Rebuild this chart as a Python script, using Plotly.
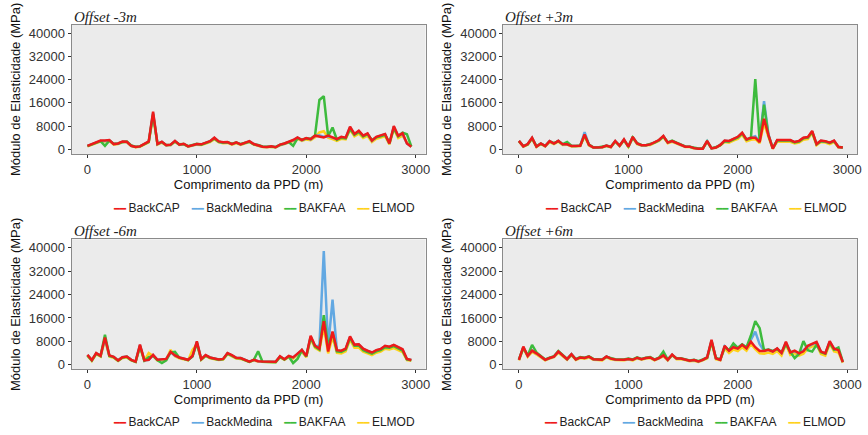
import plotly.graph_objects as go

# Distance along the runway centre line (m)
DIST = list(range(0, 2961, 40))

YTICKS = [0, 8000, 16000, 24000, 32000, 40000]
XTICKS = [0, 1000, 2000, 3000]

# ---- Offset -3m ----
M3_BACKCAP = [1200, 1800, 2400, 3000, 3000, 3200, 1800, 2000, 2700, 2600,
              1200, 800, 1000, 1800, 2700, 13000, 1800, 2600, 1400, 1600,
              2900, 1600, 1900, 1000, 1500, 1800, 1700, 2200, 2800, 4000,
              2700, 2400, 2500, 1800, 2400, 1700, 2300, 2800, 1800, 1400,
              900, 800, 1000, 700, 1600, 2000, 2600, 3200, 4100, 3200,
              3900, 3500, 4700, 4500, 4100, 4700, 4100, 3500, 4300, 4000,
              7800, 5300, 6400, 4700, 5500, 3000, 4300, 4700, 5300, 2000,
              8000, 4700, 5500, 2000, 900]
M3_BACKMEDINA = [1200, 1700, 2300, 2900, 2900, 3100, 1800, 1900, 2600, 2500,
                 1200, 800, 1000, 1700, 2600, 12500, 1800, 2500, 1400, 1500,
                 2800, 1600, 1800, 1000, 1400, 1700, 1700, 2100, 2700, 3900,
                 2600, 2300, 2400, 1800, 2300, 1700, 2200, 2700, 1800, 1400,
                 900, 800, 1000, 700, 1500, 1900, 2500, 3100, 4000, 3100,
                 3800, 3400, 4600, 4800, 4300, 4500, 4000, 3400, 4200, 3900,
                 7600, 5200, 6200, 4600, 5300, 2900, 4200, 4600, 5200, 1900,
                 7800, 4600, 5300, 2000, 900]
M3_BAKFAA = [1100, 1700, 2300, 2800, 1200, 3000, 1900, 2000, 2500, 2700,
             1300, 900, 1000, 1700, 2500, 12000, 1900, 2500, 1500, 1600,
             2700, 1700, 1800, 1100, 1500, 1900, 1600, 2100, 2700, 3700,
             2600, 2300, 2400, 1900, 2300, 1800, 2200, 2600, 1700, 1500,
             1000, 900, 1000, 800, 1500, 1900, 2500, 1200, 3800, 3300,
             3700, 3600, 4800, 17000, 18300, 4500, 7500, 3300, 4000, 3800,
             7000, 5000, 6000, 4400, 5200, 3200, 4100, 4500, 5000, 2200,
             7200, 4500, 5700, 5200, 1000]
M3_ELMOD = [1000, 1600, 2200, 2700, 2700, 2900, 1600, 1800, 2400, 2400,
            1100, 700, 900, 1600, 2400, 11500, 1600, 2300, 1300, 1400,
            2600, 1500, 1700, 900, 1300, 1600, 1500, 2000, 2500, 3500,
            2400, 2100, 2200, 1600, 2100, 1500, 2000, 2500, 1600, 1200,
            800, 700, 900, 600, 1400, 1800, 2300, 2800, 3600, 2900,
            3400, 3100, 4100, 5800, 6200, 4000, 3500, 2900, 3600, 3400,
            6800, 4500, 5400, 3900, 4600, 2500, 3600, 4000, 4500, 1700,
            7000, 3900, 4700, 2400, 800]

# ---- Offset +3m ----
P3_BACKCAP = [2900, 1000, 1800, 4000, 900, 2000, 1100, 2800, 2000, 2900,
              1700, 1700, 1100, 1100, 1200, 5100, 1500, 600, 600, 700,
              1300, 800, 2900, 1200, 3400, 900, 4300, 2000, 1400, 1400,
              1700, 2400, 3200, 4600, 2300, 2800, 2200, 1500, 900, 900,
              400, 200, 200, 2900, 300, 600, 1500, 3000, 2900, 3600,
              4300, 5700, 3400, 4000, 4000, 2500, 10500, 5000, 200, 3200,
              3200, 3200, 3200, 2500, 2900, 4000, 4200, 6300, 1800, 3000,
              2800, 2300, 3000, 800, 600]
P3_BACKMEDINA = [2900, 1000, 1800, 3900, 1000, 2000, 1100, 2800, 2000, 2900,
                 1700, 1800, 1100, 1100, 1200, 5900, 1500, 600, 600, 700,
                 1300, 800, 2800, 1200, 3300, 900, 4200, 2000, 1400, 1400,
                 1700, 2400, 3100, 4500, 2300, 2800, 2200, 1500, 900, 900,
                 400, 200, 200, 2800, 300, 600, 1500, 2900, 2800, 3500,
                 4200, 5600, 3400, 4000, 4500, 2600, 16600, 5200, 300, 3100,
                 3100, 3200, 3100, 2500, 2800, 3900, 4100, 6100, 1800, 2900,
                 2700, 2200, 2900, 800, 600]
P3_BAKFAA = [2800, 1100, 1700, 3800, 1000, 1900, 1200, 2700, 2100, 2800,
             1800, 2500, 1200, 1100, 1300, 4800, 1600, 700, 600, 800,
             1200, 900, 2700, 1300, 3200, 1000, 4100, 2100, 1500, 1400,
             1800, 2300, 3100, 4400, 2400, 3000, 2300, 1600, 1000, 900,
             500, 300, 300, 2700, 400, 700, 1400, 2800, 2700, 3400,
             4100, 5400, 3300, 3800, 24200, 3000, 15400, 4800, 400, 3000,
             3000, 3100, 3000, 2400, 2700, 3800, 4000, 6000, 1700, 2800,
             2700, 2200, 2800, 900, 600]
P3_ELMOD = [2700, 900, 1600, 3600, 800, 1800, 1000, 2500, 1800, 2600,
            1500, 1600, 1000, 1000, 1100, 4500, 1300, 500, 500, 600,
            1100, 700, 2600, 1100, 3000, 800, 3900, 1800, 1300, 1300,
            1500, 2200, 2900, 4200, 2100, 2600, 2000, 1400, 800, 800,
            300, 200, 200, 2600, 300, 500, 1300, 2500, 2300, 3000,
            3600, 5000, 2800, 3300, 3500, 2100, 9000, 4300, 200, 2600,
            2600, 2600, 2600, 2000, 2300, 3300, 3500, 5600, 1400, 2500,
            2300, 1800, 2500, 600, 500]

# ---- Offset -6m ----
M6_BACKCAP = [3400, 1600, 4000, 3100, 9300, 3200, 2700, 1500, 2600, 2800,
              1700, 1100, 6900, 1500, 1700, 3400, 1700, 1800, 2000, 4400,
              3200, 2500, 2100, 1700, 3000, 8000, 1900, 3300, 2500, 2200,
              1800, 2000, 4000, 3300, 2400, 2300, 1800, 1100, 1700, 1200,
              1100, 1000, 900, 1000, 2900, 1900, 3000, 2500, 3800, 5100,
              3000, 9900, 6500, 5500, 14900, 4500, 11400, 5000, 4800, 5500,
              9700, 6900, 7000, 5500, 4800, 4200, 5000, 5400, 6500, 6200,
              6800, 5900, 5300, 2000, 1600]
M6_BACKMEDINA = [3300, 1600, 3900, 3100, 9000, 3100, 2700, 1500, 2600, 2800,
                 1700, 1100, 6700, 1500, 1700, 3300, 1700, 1800, 2000, 4300,
                 3100, 2500, 2100, 1700, 2900, 7800, 1900, 3200, 2500, 2200,
                 1800, 2000, 3900, 3200, 2400, 2300, 1800, 1100, 1700, 1200,
                 1100, 1000, 900, 1000, 2800, 1900, 2900, 2500, 3700, 5000,
                 2900, 9600, 6400, 6500, 38900, 6000, 22300, 4800, 4700, 5400,
                 9500, 6800, 6900, 5400, 4700, 4100, 4900, 5300, 6400, 6100,
                 6700, 5800, 5200, 1900, 1600]
M6_BAKFAA = [3200, 1500, 3800, 3000, 10300, 3000, 2600, 1400, 2500, 2700,
             1600, 1000, 6400, 1400, 2600, 3000, 1500, 600, 1500, 4200,
             4400, 2400, 2000, 1600, 2800, 7500, 1800, 3100, 2400, 2100,
             1700, 1900, 3800, 3100, 2300, 2200, 1700, 1000, 1600, 4600,
             1000, 900, 800, 900, 2700, 1800, 2800, 600, 2000, 4900,
             2800, 9400, 6200, 5200, 17000, 6500, 11000, 4600, 4400, 5200,
             9200, 6500, 6600, 5000, 4300, 3800, 4600, 5000, 6000, 5800,
             6400, 5500, 4800, 1800, 1500]
M6_ELMOD = [3000, 1300, 3600, 2800, 8500, 2800, 2400, 1300, 2300, 2500,
            1500, 1000, 6000, 1300, 4000, 3000, 1500, 1600, 1800, 5100,
            2900, 2200, 1900, 1500, 5100, 7000, 1700, 3000, 2200, 2000,
            1600, 1800, 3600, 2900, 2100, 2000, 1600, 1000, 1500, 1100,
            1000, 900, 800, 900, 2500, 1700, 2600, 2100, 3300, 4400,
            2600, 8800, 5800, 4900, 13000, 3900, 9500, 4100, 3900, 4600,
            8500, 5800, 5900, 4500, 3900, 3300, 4100, 4500, 5500, 5200,
            5700, 4900, 4300, 1600, 1400]

# ---- Offset +6m ----
P6_BACKCAP = [1700, 6200, 3000, 4800, 3900, 2700, 1700, 2300, 2800, 4500,
              3200, 1900, 3600, 1800, 2500, 2300, 2800, 1900, 1800, 1700,
              2800, 2100, 1800, 1700, 1700, 2000, 1700, 2400, 1900, 2300,
              2500, 1700, 2300, 3200, 1700, 3500, 2100, 2100, 1800, 1400,
              1600, 1100, 1700, 2500, 8500, 2200, 1700, 6500, 4800, 6000,
              5500, 6800, 5600, 7900, 6000, 4700, 4700, 5100, 4500, 5600,
              4000, 7900, 4200, 4800, 3900, 4600, 6500, 7200, 7800, 4500,
              3900, 8100, 5500, 5000, 900]
P6_BACKMEDINA = [1700, 6000, 3000, 4900, 3900, 2700, 1700, 2300, 2800, 4500,
                 3200, 1900, 3600, 1800, 2500, 2300, 2800, 1900, 1800, 1700,
                 2800, 2100, 1800, 1700, 1700, 2000, 1700, 2400, 1900, 2300,
                 2500, 1700, 2300, 3300, 1700, 3400, 2100, 2100, 1800, 1400,
                 1600, 1100, 1700, 2500, 8200, 2200, 1700, 6300, 4900, 6300,
                 5600, 6900, 5800, 8500, 11300, 7000, 4800, 5100, 4600, 5500,
                 4100, 7600, 4300, 4600, 3900, 5000, 6200, 7000, 7500, 4500,
                 3900, 7900, 5400, 5100, 900]
P6_BAKFAA = [1800, 5800, 3200, 6800, 4200, 2900, 1800, 2400, 2900, 4700,
             3300, 2000, 3500, 1900, 2600, 2400, 2900, 2000, 1900, 1800,
             2700, 2200, 1900, 1800, 1800, 2100, 1800, 2500, 2000, 2400,
             2600, 1800, 2400, 4500, 1800, 3300, 2200, 2200, 1900, 1500,
             1700, 1200, 1800, 2400, 8000, 2300, 1800, 6000, 5000, 7300,
             5800, 7000, 6000, 10000, 14900, 12500, 5000, 5200, 4700, 5400,
             4200, 7000, 4400, 2300, 3700, 8100, 5000, 4500, 6800, 4300,
             3800, 7500, 5200, 5900, 1000]
P6_ELMOD = [1500, 5600, 2700, 4400, 3500, 2400, 1500, 2100, 2600, 4100,
            2900, 1700, 3300, 1600, 2300, 2100, 2500, 1700, 1600, 1500,
            2500, 1900, 1600, 1500, 1500, 1800, 1500, 2200, 1700, 2100,
            2300, 1500, 2100, 2900, 1500, 3200, 1900, 1900, 1600, 1200,
            1400, 1000, 1500, 2200, 7600, 1900, 1500, 5600, 4000, 5200,
            4700, 6000, 4800, 7100, 5300, 3900, 3800, 4200, 3700, 4700,
            3200, 7000, 3400, 4000, 3100, 3800, 5600, 6300, 6900, 3700,
            3100, 7200, 4600, 4200, 700]

METHODS = ["BackCAP", "BackMedina", "BAKFAA", "ELMOD"]
COLORS = {"BackCAP": "#EE1A1A", "BackMedina": "#62A8E2",
          "BAKFAA": "#3DBB3D", "ELMOD": "#FFD21A"}
# drawing order: red on top
DRAW_ORDER = ["ELMOD", "BackMedina", "BAKFAA", "BackCAP"]

PANELS = [
    ("Offset -3m", {"BackCAP": M3_BACKCAP, "BackMedina": M3_BACKMEDINA,
                    "BAKFAA": M3_BAKFAA, "ELMOD": M3_ELMOD}),
    ("Offset +3m", {"BackCAP": P3_BACKCAP, "BackMedina": P3_BACKMEDINA,
                    "BAKFAA": P3_BAKFAA, "ELMOD": P3_ELMOD}),
    ("Offset -6m", {"BackCAP": M6_BACKCAP, "BackMedina": M6_BACKMEDINA,
                    "BAKFAA": M6_BAKFAA, "ELMOD": M6_ELMOD}),
    ("Offset +6m", {"BackCAP": P6_BACKCAP, "BackMedina": P6_BACKMEDINA,
                    "BAKFAA": P6_BAKFAA, "ELMOD": P6_ELMOD}),
]

W, H = 868, 435
# plot areas in pixels: (left, right, top, bottom)
BOXES = [(72, 428, 25, 155), (506, 862, 25, 155),
         (72, 428, 241, 372), (506, 862, 241, 372)]
# centre of each panel's key row, in pixels
KEY_POS = [(266, 209), (700, 209), (266, 425), (699, 425)]

SANS = "Liberation Sans, Arial, sans-serif"
SERIF = "Liberation Serif, Times New Roman, serif"


def key_text():
    """Compact one-line key: coloured dash followed by the method name."""
    parts = []
    for name in METHODS:
        dash = ("<span style='color:%s;font-family:DejaVu Sans;"
                "font-size:10px;font-weight:bold'>━━</span>" % COLORS[name])
        parts.append(dash + "\u2009" + name)
    return "\u2002\u2002".join(parts)


fig = go.Figure()
layout = dict(
    width=W, height=H, margin=dict(l=0, r=0, t=0, b=0),
    paper_bgcolor="white", plot_bgcolor="#EBEBEB",
    font=dict(family=SANS, size=13, color="#333333"),
    showlegend=False,
    annotations=[],
)

for i, (title, series) in enumerate(PANELS):
    n = "" if i == 0 else str(i + 1)
    xa, ya = "x" + n, "y" + n
    for name in DRAW_ORDER:
        fig.add_trace(go.Scatter(
            x=DIST, y=series[name], mode="lines", name=name,
            line=dict(color=COLORS[name], width=2.5),
            xaxis=xa, yaxis=ya,
        ))
    l, r, t, b = BOXES[i]
    layout["xaxis" + n] = dict(
        domain=[l / W, r / W], anchor=ya, range=[-145, 3090],
        tickmode="array", tickvals=XTICKS, tickformat="d",
        ticks="outside", ticklen=3, tickcolor="#333333",
        showgrid=False, zeroline=False, showline=True, mirror=True,
        linecolor="#8A8A8A", linewidth=1,
        tickfont=dict(size=13, color="#333333"),
        title=dict(text="Comprimento da PPD (m)", standoff=3,
                   font=dict(size=13, color="#111111")),
    )
    layout["yaxis" + n] = dict(
        domain=[1 - b / H, 1 - t / H], anchor=xa, range=[-1600, 42900],
        tickmode="array", tickvals=YTICKS, tickformat="d",
        ticks="outside", ticklen=3, tickcolor="#333333",
        showgrid=False, zeroline=False, showline=True, mirror=True,
        linecolor="#8A8A8A", linewidth=1,
        tickfont=dict(size=13, color="#333333"),
        title=dict(text="Módulo de Elasticidade (MPa)", standoff=5,
                   font=dict(size=13, color="#111111")),
    )
    layout["annotations"].append(dict(
        text="<i>" + title + "</i>", xref="paper", yref="paper",
        x=l / W, y=1 - (t + 2) / H, xanchor="left", yanchor="bottom",
        showarrow=False, font=dict(family=SERIF, size=15, color="#222222"),
    ))
    kx, ky = KEY_POS[i]
    layout["annotations"].append(dict(
        text=key_text(), xref="paper", yref="paper",
        x=kx / W, y=1 - ky / H, xanchor="center", yanchor="middle",
        showarrow=False, font=dict(family=SANS, size=12, color="#222222"),
    ))

fig.update_layout(**layout)
fig.write_html("out.html")
